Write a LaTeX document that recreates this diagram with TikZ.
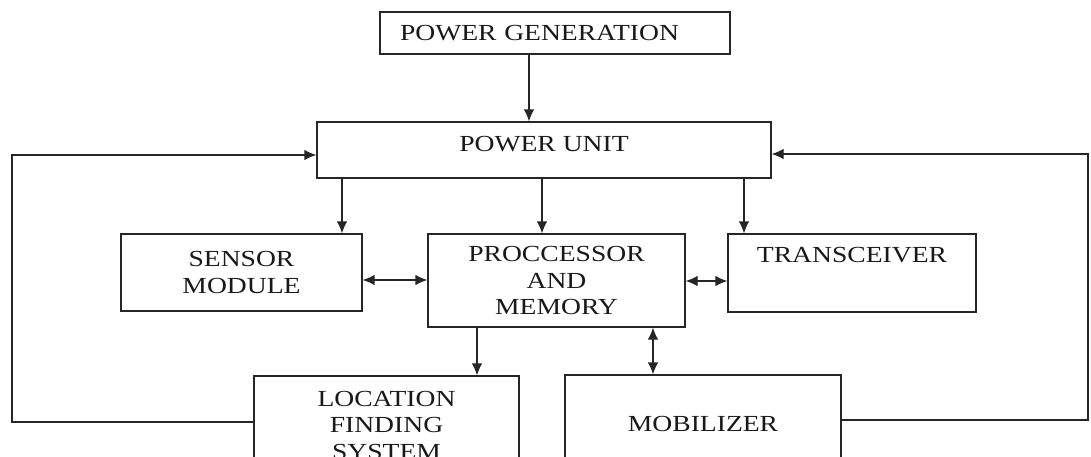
\documentclass[tikz,border=0pt]{standalone}
\usepackage{fontspec}
\setmainfont{Liberation Serif}[FakeStretch=1.2]
\usetikzlibrary{arrows.meta}
\begin{document}
\begin{tikzpicture}[x=1pt,y=-1pt,
  font=\fontsize{23}{26.5}\selectfont,
  box/.style={draw=black!85, line width=1.2pt, inner sep=0pt, text=black!90},
  arr/.style={draw=black!85, line width=1.2pt, -{Latex[length=12pt,width=10.5pt]}},
  darr/.style={draw=black!85, line width=1.2pt, {Latex[length=12pt,width=10.5pt]}-{Latex[length=12pt,width=10.5pt]}}]
\useasboundingbox (0,0) rectangle (1091,456);
\clip (0,0) rectangle (1091,456);
\fill[white] (0,0) rectangle (1091,456);

% boxes
\node[box, minimum width=350pt, minimum height=42pt, text width=310pt, align=left, inner xsep=20pt] (pg) at (555,33) {POWER GENERATION};
\node[box, minimum width=454pt, text height=29pt, text depth=27pt] (pu) at (544,150) {POWER UNIT};
\node[box, align=center, minimum width=241pt, minimum height=77pt] (sen) at (241.5,272.5) {SENSOR\\MODULE};
\node[box, align=center, minimum width=257pt, minimum height=93pt] (proc) at (556.5,280.5) {PROCCESSOR\\AND\\MEMORY};
\node[box, minimum width=248pt, text height=28pt, text depth=50pt] (tr) at (852,273) {TRANSCEIVER};
\node[box, align=center, minimum width=265pt, minimum height=98pt] (loc) at (386.5,425) {LOCATION\\FINDING\\SYSTEM};
\node[box, minimum width=276pt, minimum height=98pt] (mob) at (703,424) {MOBILIZER};

% helper coordinates
\coordinate (c1) at (529,0);
\coordinate (c2) at (342,0);
\coordinate (c3) at (542,0);
\coordinate (c4) at (744,0);
\coordinate (c5) at (477,0);
\coordinate (c6) at (653,0);
\coordinate (r1) at (0,280);
\coordinate (r2) at (0,281);
\coordinate (lx) at (12,422);
\coordinate (ly) at (0,155);
\coordinate (rx) at (1088,420);
\coordinate (ry) at (0,154);

% connectors
\draw[arr] (pg.south -| c1) -- (pu.north -| c1);
\draw[arr] (pu.south -| c2) -- (sen.north -| c2);
\draw[arr] (pu.south -| c3) -- (proc.north -| c3);
\draw[arr] (pu.south -| c4) -- (tr.north -| c4);
\draw[darr] (sen.east |- r1) -- (proc.west |- r1);
\draw[darr] (proc.east |- r2) -- (tr.west |- r2);
\draw[arr] (proc.south -| c5) -- (loc.north -| c5);
\draw[darr] (proc.south -| c6) -- (mob.north -| c6);
\draw[arr] (loc.west |- lx) -- (lx) -- (lx |- ly) -- (pu.west |- ly);
\draw[arr] (mob.east |- rx) -- (rx) -- (rx |- ry) -- (pu.east |- ry);
\end{tikzpicture}
\end{document}
